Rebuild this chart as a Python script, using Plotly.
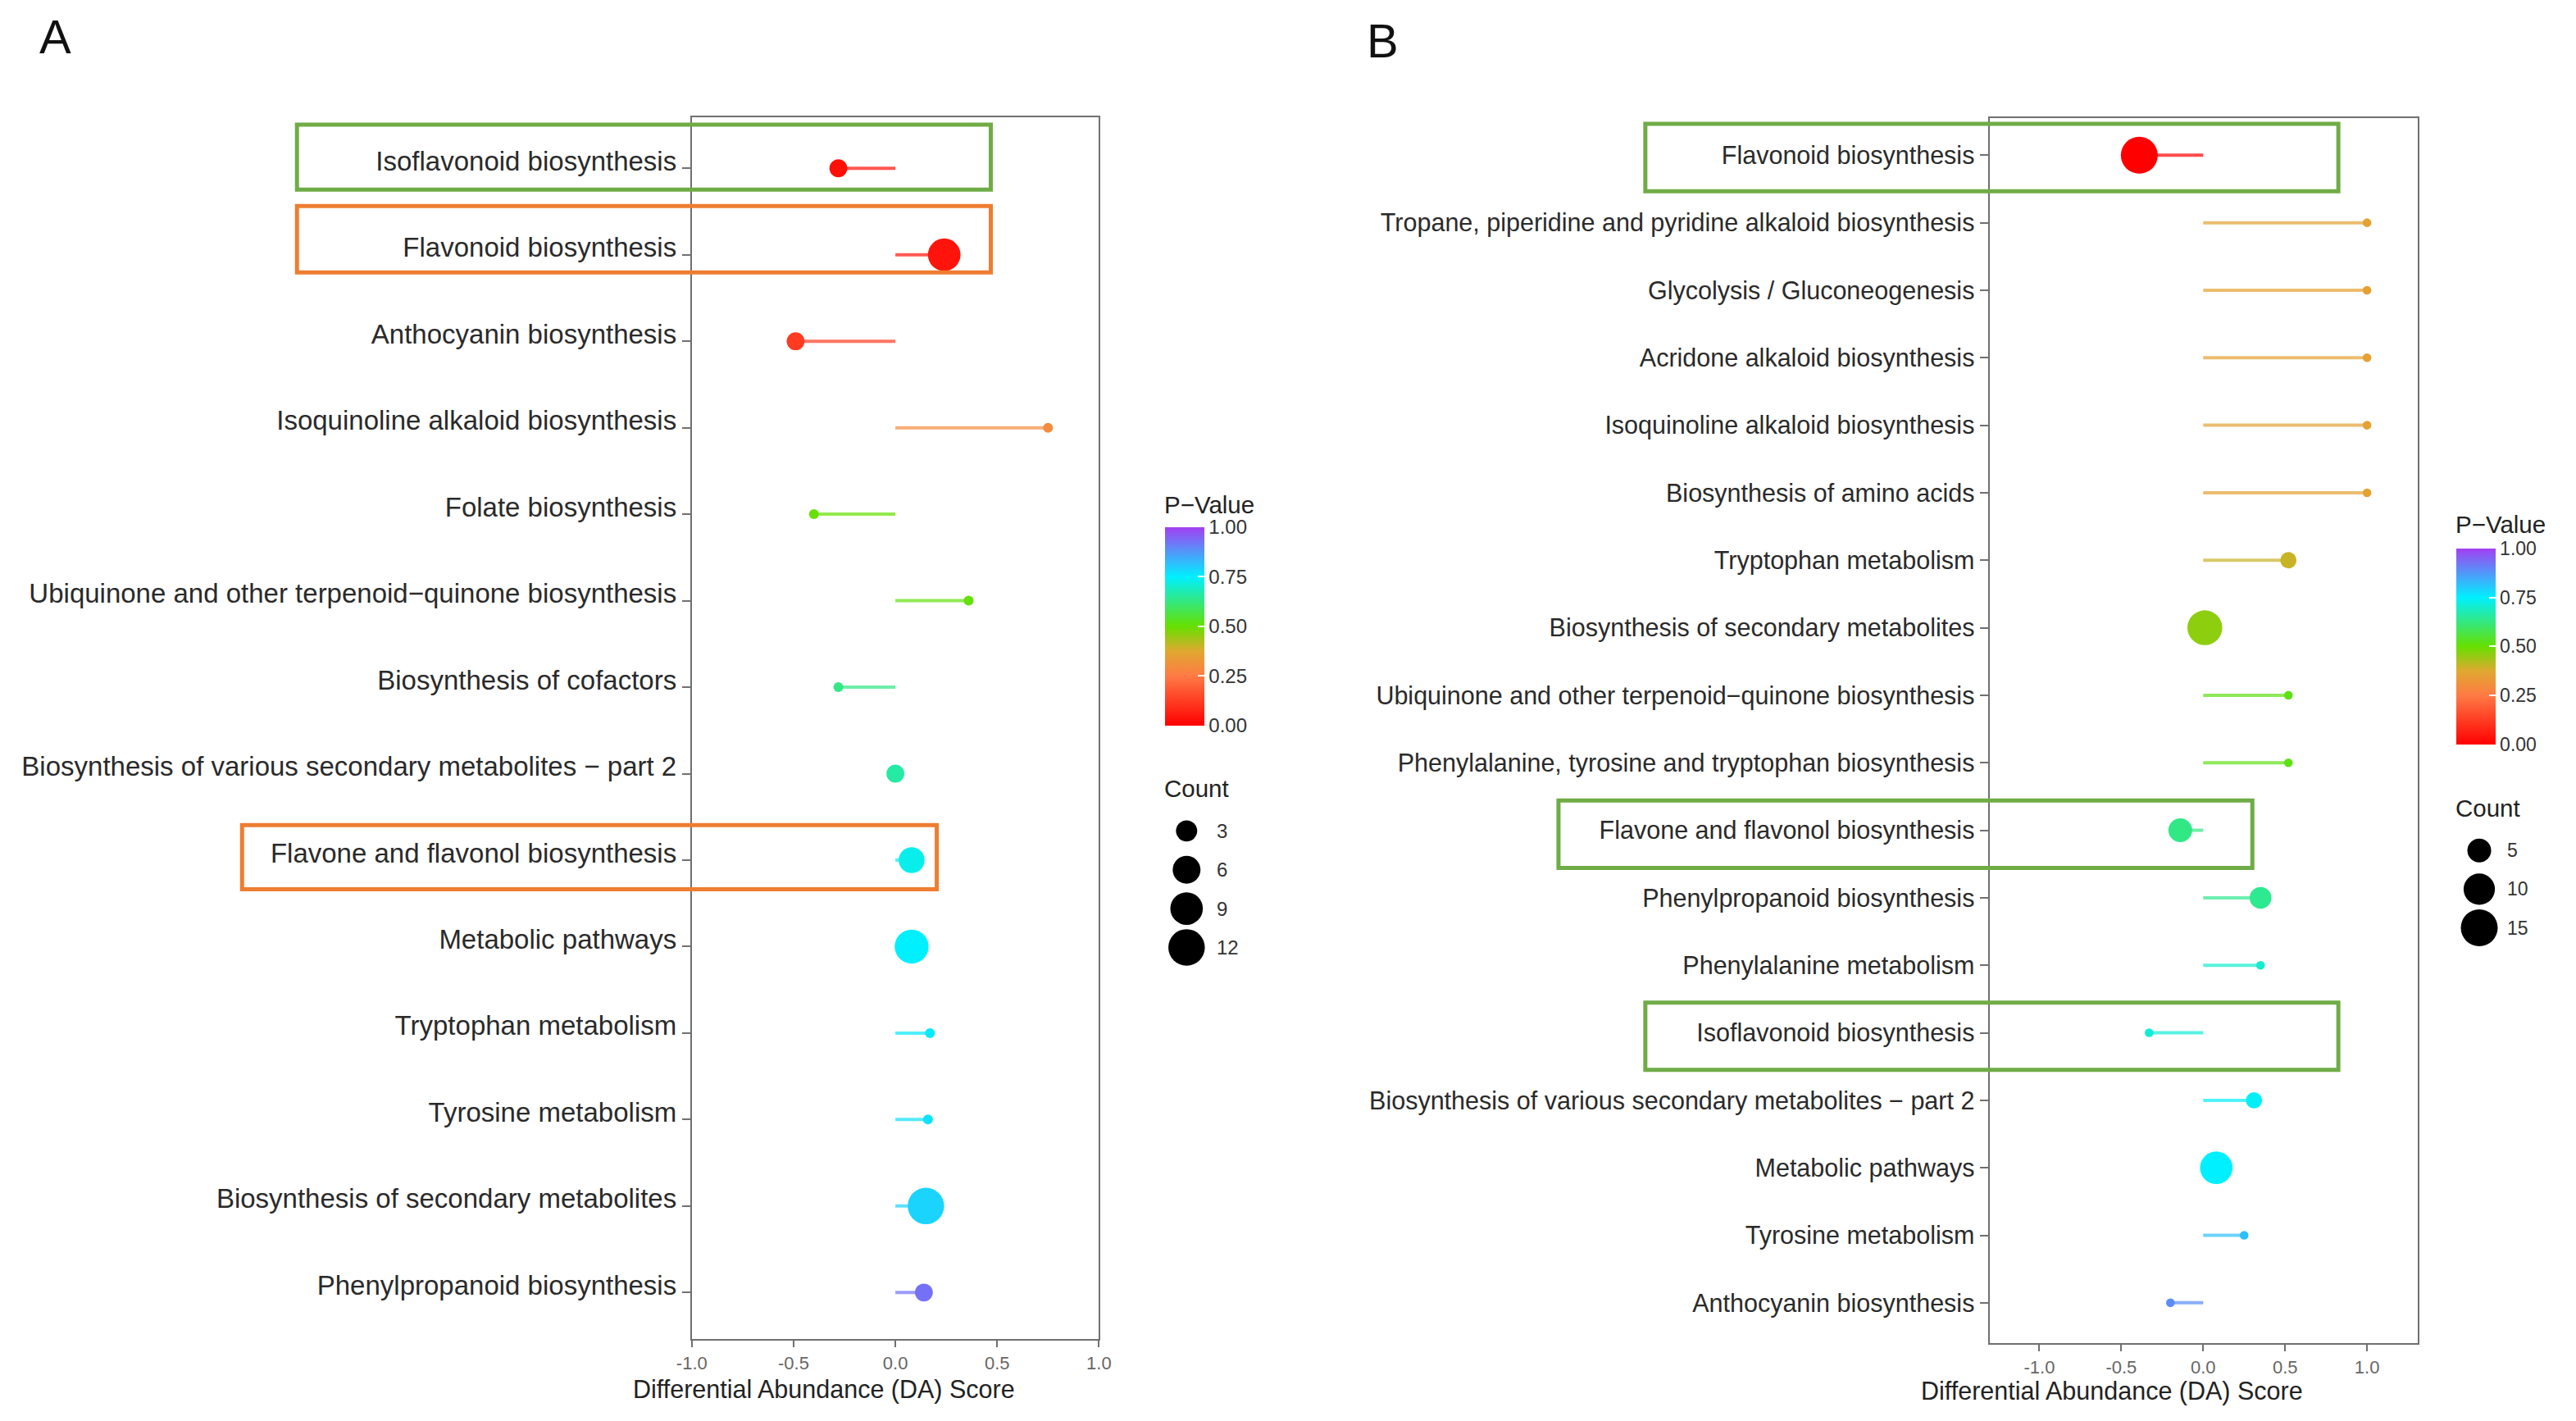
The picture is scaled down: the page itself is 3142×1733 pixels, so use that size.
import plotly.graph_objects as go
from plotly.colors import sample_colorscale

W, H = 3142, 1733

# ---------------- data ----------------
cats_A = [
    "Isoflavonoid biosynthesis",
    "Flavonoid biosynthesis",
    "Anthocyanin biosynthesis",
    "Isoquinoline alkaloid biosynthesis",
    "Folate biosynthesis",
    "Ubiquinone and other terpenoid\u2212quinone biosynthesis",
    "Biosynthesis of cofactors",
    "Biosynthesis of various secondary metabolites \u2212 part 2",
    "Flavone and flavonol biosynthesis",
    "Metabolic pathways",
    "Tryptophan metabolism",
    "Tyrosine metabolism",
    "Biosynthesis of secondary metabolites",
    "Phenylpropanoid biosynthesis",
]
da_A = [-0.28, 0.24, -0.49, 0.75, -0.40, 0.36, -0.28, 0.0, 0.08, 0.08, 0.17, 0.16, 0.15, 0.14]
p_A = [0.03, 0.04, 0.12, 0.30, 0.50, 0.51, 0.63, 0.66, 0.73, 0.75, 0.76, 0.77, 0.79, 0.93]
count_A = [2, 9, 2, 1, 1, 1, 1, 2, 5, 10, 1, 1, 12, 2]

cats_B = [
    "Flavonoid biosynthesis",
    "Tropane, piperidine and pyridine alkaloid biosynthesis",
    "Glycolysis / Gluconeogenesis",
    "Acridone alkaloid biosynthesis",
    "Isoquinoline alkaloid biosynthesis",
    "Biosynthesis of amino acids",
    "Tryptophan metabolism",
    "Biosynthesis of secondary metabolites",
    "Ubiquinone and other terpenoid\u2212quinone biosynthesis",
    "Phenylalanine, tyrosine and tryptophan biosynthesis",
    "Flavone and flavonol biosynthesis",
    "Phenylpropanoid biosynthesis",
    "Phenylalanine metabolism",
    "Isoflavonoid biosynthesis",
    "Biosynthesis of various secondary metabolites \u2212 part 2",
    "Metabolic pathways",
    "Tyrosine metabolism",
    "Anthocyanin biosynthesis",
]
da_B = [-0.39, 1.0, 1.0, 1.0, 1.0, 1.0, 0.52, 0.01, 0.52, 0.52, -0.14, 0.35, 0.35, -0.33, 0.31, 0.08, 0.25, -0.20]
p_B = [0.0, 0.36, 0.36, 0.36, 0.36, 0.36, 0.40, 0.46, 0.52, 0.52, 0.63, 0.64, 0.70, 0.71, 0.74, 0.75, 0.82, 0.89]
count_B = [15, 1, 1, 1, 1, 1, 2, 13, 1, 1, 5, 4, 1, 1, 2, 11, 1, 1]

xticks_A = [-1.0, -0.5, 0.0, 0.5, 1.0]
xticks_B = [-1.0, -0.5, 0.0, 0.5, 1.0]
xticklabels = ["-1.0", "-0.5", "0.0", "0.5", "1.0"]
pv_ticks = [0, 0.25, 0.5, 0.75, 1.0]
pv_labels = ["0.00", "0.25", "0.50", "0.75", "1.00"]
legend_counts_A = [3, 6, 9, 12]
legend_counts_B = [5, 10, 15]

# ---------------- styles ----------------
CS = [
    [0.0, "#FF0000"],
    [0.25, "#FF7A45"],
    [0.375, "#E0A830"],
    [0.5, "#66E000"],
    [0.75, "#00F0FF"],
    [1.0, "#A33FF2"],
]
FONT = "Liberation Sans, Arial, sans-serif"
GREEN = "#6FAC46"
ORANGE = "#EE7D31"

# calibration from target-image pixel positions to layout pixels
SX, OX = 0.990, 18.5
SY, OY = 0.9985, -0.8


def px(x):
    return (x - OX) / SX


def py(y):
    return (y - OY) / SY


def size_A(c):
    return 12 + 9.8 * (c - 1) ** 0.5


def size_B(c):
    return 10.6 + 9.2 * (c - 1) ** 0.5


fig = go.Figure()


def add_panel(cats, da, p, counts, sizefn, xa, ya, cb_x, cb_top, cb_bot, cb_font):
    cols = sample_colorscale(CS, p)
    for c, d, col in zip(cats, da, cols):
        fig.add_trace(go.Scatter(
            x=[0, d], y=[c, c], mode="lines",
            line=dict(color=col, width=4), opacity=0.7,
            xaxis=xa, yaxis=ya, hoverinfo="skip", showlegend=False))
    fig.add_trace(go.Scatter(
        x=da, y=cats, mode="markers", xaxis=xa, yaxis=ya, showlegend=False,
        marker=dict(size=[sizefn(c) for c in counts], color=p, colorscale=CS,
                    cmin=0, cmax=1, line=dict(width=0), opacity=1,
                    showscale=True,
                    colorbar=dict(x=px(cb_x) / W, xanchor="left", xpad=0,
                                  y=1 - py(cb_top) / H, yanchor="top", ypad=0,
                                  lenmode="pixels", len=py(cb_bot) - py(cb_top), thickness=48,
                                  outlinewidth=0, tickvals=pv_ticks, ticktext=pv_labels,
                                  ticks="inside", ticklen=8, tickcolor="white", tickwidth=1.5,
                                  tickfont=dict(family=FONT, size=cb_font, color="#333")))))


add_panel(cats_A, da_A, p_A, count_A, size_A, "x", "y", 1422, 641, 883, 24)
add_panel(cats_B, da_B, p_B, count_B, size_B, "x2", "y2", 2998, 667, 906, 23)

# count legends on a full-figure pixel overlay axis
legA_y = [py(1011 + 47.3 * i) for i in range(len(legend_counts_A))]
legB_y = [py(1035 + 47 * i) for i in range(len(legend_counts_B))]
fig.add_trace(go.Scatter(x=[px(1448)] * len(legend_counts_A), y=legA_y, mode="markers",
                         marker=dict(size=[size_A(c) for c in legend_counts_A], color="black",
                                     opacity=1, line=dict(width=0)),
                         xaxis="x3", yaxis="y3", showlegend=False, hoverinfo="skip"))
fig.add_trace(go.Scatter(x=[px(3026)] * len(legend_counts_B), y=legB_y, mode="markers",
                         marker=dict(size=[size_B(c) for c in legend_counts_B], color="black",
                                     opacity=1, line=dict(width=0)),
                         xaxis="x3", yaxis="y3", showlegend=False, hoverinfo="skip"))

annos = []
for c, yy in zip(legend_counts_A, legA_y):
    annos.append(dict(x=px(1483), y=yy, xref="x3", yref="y3", text=str(c), showarrow=False,
                      xanchor="left", yanchor="middle", font=dict(family=FONT, size=24, color="#333")))
for c, yy in zip(legend_counts_B, legB_y):
    annos.append(dict(x=px(3058), y=yy, xref="x3", yref="y3", text=str(c), showarrow=False,
                      xanchor="left", yanchor="middle", font=dict(family=FONT, size=23, color="#333")))

for txt, x, y in [("P\u2212Value", 1419, 614), ("Count", 1419, 959),
                  ("P\u2212Value", 2995, 638), ("Count", 2995, 983)]:
    annos.append(dict(x=px(x), y=py(y), xref="x3", yref="y3", text=txt, showarrow=False,
                      xanchor="left", yanchor="middle", font=dict(family=FONT, size=29.5, color="#222")))

for txt, x, y in [("Differential Abundance (DA) Score", 1005, 1691),
                  ("Differential Abundance (DA) Score", 2578, 1693)]:
    annos.append(dict(x=px(x), y=py(y), xref="x3", yref="y3", text=txt, showarrow=False,
                      xanchor="center", yanchor="middle", font=dict(family=FONT, size=30.5, color="#222")))

for txt, x, y in [("A", 46, 44), ("B", 1666, 49)]:
    annos.append(dict(x=px(x), y=py(y), xref="x3", yref="y3", text=txt, showarrow=False,
                      xanchor="left", yanchor="middle", font=dict(family=FONT, size=58, color="#111")))

shapes = []
for x0, y0, x1, y1, col in [
    (362, 151, 1209, 230, GREEN),
    (362, 250, 1209, 331, ORANGE),
    (295, 1004, 1143, 1082, ORANGE),
    (2008, 150, 2854, 232, GREEN),
    (1902, 974, 2749, 1056, GREEN),
    (2008, 1220, 2854, 1302, GREEN),
]:
    shapes.append(dict(type="rect", x0=px(x0), y0=py(y0), x1=px(x1), y1=py(y1),
                       xref="x3", yref="y3",
                       line=dict(color=col, width=5), fillcolor="rgba(0,0,0,0)", layer="above"))

axis_common = dict(showline=True, mirror=True, linecolor="#707070", linewidth=2,
                   showgrid=False, zeroline=False, ticks="outside", tickcolor="#707070",
                   tickwidth=2)

fig.update_layout(
    width=W, height=H, margin=dict(l=0, r=0, t=0, b=0),
    paper_bgcolor="white", plot_bgcolor="rgba(0,0,0,0)",
    font=dict(family=FONT),
    xaxis=dict(domain=[px(844) / W, px(1341) / W], anchor="y", range=[-1, 1],
               tickvals=xticks_A, ticktext=xticklabels, ticklen=8,
               tickfont=dict(family=FONT, size=22, color="#666"), **axis_common),
    yaxis=dict(domain=[1 - py(1630) / H, 1 - py(142) / H], anchor="x", type="category",
               categoryorder="array", categoryarray=cats_A,
               range=[len(cats_A) - 1 + 0.54, -0.59], ticklen=10, ticklabelshift=9,
               tickfont=dict(family=FONT, size=33, color="#2a2a2a"), **axis_common),
    xaxis2=dict(domain=[px(2428) / W, px(2951) / W], anchor="y2", range=[-1.305, 1.31],
                tickvals=xticks_B, ticktext=xticklabels, ticklen=8,
                tickfont=dict(family=FONT, size=22, color="#666"), **axis_common),
    yaxis2=dict(domain=[1 - py(1635) / H, 1 - py(143) / H], anchor="x2", type="category",
                categoryorder="array", categoryarray=cats_B,
                range=[len(cats_B) - 1 + 0.6, -0.55], ticklen=10,
                tickfont=dict(family=FONT, size=30.5, color="#2a2a2a"), **axis_common),
    xaxis3=dict(domain=[0, 1], anchor="y3", range=[0, W], visible=False, fixedrange=True),
    yaxis3=dict(domain=[0, 1], anchor="x3", range=[H, 0], visible=False, fixedrange=True),
    annotations=annos,
    shapes=shapes,
)

fig.write_html("out.html", config={"displayModeBar": False},
               post_script="document.body.style.margin='0px';document.body.style.overflow='hidden';")
